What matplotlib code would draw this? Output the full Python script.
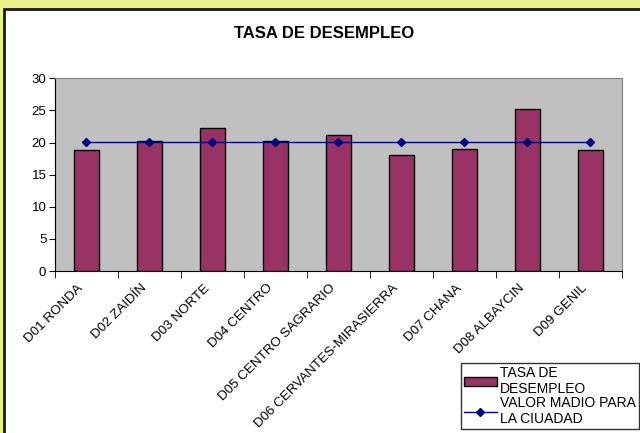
import matplotlib.pyplot as plt
import matplotlib.transforms as mtransforms
import numpy as np
from matplotlib.patches import Rectangle

distritos = ['D01 RONDA', 'D02 ZAIDÍN', 'D03 NORTE', 'D04 CENTRO',
             'D05 CENTRO SAGRARIO', 'D06 CERVANTES-MIRASIERRA',
             'D07 CHANA', 'D08 ALBAYCIN', 'D09 GENIL']
tasa = [18.85, 20.2, 22.3, 20.2, 21.1, 18.0, 19.0, 25.2, 18.85]
media = [20.15] * 9

plt.rcParams['font.family'] = ['Liberation Sans', 'DejaVu Sans']

fig = plt.figure(figsize=(6.4, 4.33), dpi=100)
fig.patch.set_facecolor('#ecf08c')
fig.patches.append(Rectangle((3.5 / 640, -0.05), 1.0, 1 - 9 / 433 + 0.05,
                             transform=fig.transFigure, facecolor='white',
                             edgecolor='#1a1a1a', linewidth=2, zorder=-5))

ax = fig.add_axes([54.7 / 640, 1 - 271 / 433, (622 - 54.7) / 640, (271 - 78.3) / 433])
ax.set_facecolor('#c0c0c0')

x = np.arange(len(distritos))
bars = ax.bar(x, tasa, width=0.4, color='#993366', edgecolor='black',
              linewidth=1, label='TASA DE\nDESEMPLEO', zorder=2)
line, = ax.plot(x, media, color='#000080', linewidth=1, marker='D',
                markersize=4, label='VALOR MADIO PARA\nLA CIUADAD', zorder=3)

ax.set_xlim(-0.5, len(distritos) - 0.5)
ax.set_ylim(0, 30)
ax.set_yticks(range(0, 31, 5))
ax.tick_params(axis='y', labelsize=9.5, length=4, direction='out', pad=2)

ax.set_xticks(x)
ax.set_xticklabels(distritos, rotation=45, ha='right', rotation_mode='anchor', fontsize=9.6)
ax.set_xticks(np.arange(-0.5, len(distritos), 1), minor=True)
ax.tick_params(axis='x', which='major', length=0, pad=8)
ax.tick_params(axis='x', which='minor', length=5, direction='out')
shift = mtransforms.ScaledTranslation(-0.09, 0, fig.dpi_scale_trans)
for lab in ax.get_xticklabels():
    lab.set_transform(lab.get_transform() + shift)

ax.spines['top'].set_color('#808080')
ax.spines['right'].set_color('#808080')
ax.spines['left'].set_color('black')
ax.spines['bottom'].set_color('black')

fig.text(324 / 640, 1 - 33 / 433, 'TASA DE DESEMPLEO', ha='center', va='center',
         fontsize=12, fontweight='bold')

leg = fig.legend(handles=[bars, line], loc='upper left',
                 bbox_to_anchor=(461 / 640, 1 - 363 / 433), fontsize=10,
                 frameon=True, fancybox=False, edgecolor='black',
                 borderpad=0.2, labelspacing=0.0, handlelength=2.4,
                 handletextpad=0.2, borderaxespad=0)
leg.get_frame().set_linewidth(1)

fig.savefig('out.png', dpi=100, facecolor=fig.get_facecolor())
